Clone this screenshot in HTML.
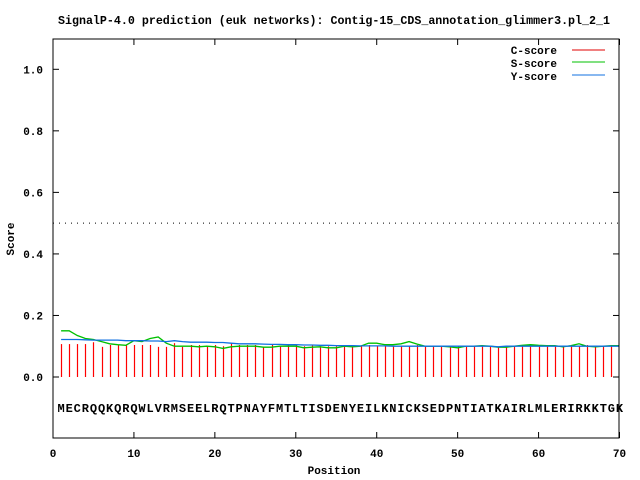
<!DOCTYPE html>
<html><head><meta charset="utf-8"><style>
body{margin:0;background:#fff}
svg{display:block;font-family:"Liberation Mono","DejaVu Sans Mono",monospace;font-weight:bold}
</style></head><body>
<svg id="chart" width="640" height="480" xmlns="http://www.w3.org/2000/svg">
<text x="334" y="24" font-size="11.5" text-anchor="middle" textLength="552" lengthAdjust="spacingAndGlyphs">SignalP-4.0 prediction (euk networks): Contig-15_CDS_annotation_glimmer3.pl_2_1</text>
<g id="axes"></g>
<g id="marks"></g>
<rect x="53" y="39" width="566" height="399" fill="none" stroke="#000" stroke-width="1"/>
<text transform="translate(14,239) rotate(-90)" font-size="11" text-anchor="middle">Score</text>
<text x="334" y="474" font-size="11" text-anchor="middle">Position</text>
<g font-size="11">
<text x="557" y="54" text-anchor="end">C-score</text>
<line x1="572" y1="50" x2="605" y2="50" stroke="#e00000"/>
<text x="557" y="67" text-anchor="end">S-score</text>
<line x1="572" y1="62" x2="605" y2="62" stroke="#00c000"/>
<text x="557" y="80" text-anchor="end">Y-score</text>
<line x1="572" y1="75" x2="605" y2="75" stroke="#1070e0"/>
</g>
</svg>
<script>
const sequence = "MECRQQKQRQWLVRMSEELRQTPNAYFMTLTISDENYEILKNICKSEDPNTIATKAIRLMLERIRKKTGK";
const xTicks = [0,10,20,30,40,50,60,70];
const yTicks = [0.0,0.2,0.4,0.6,0.8,1.0];
const cScore = [0.107,0.107,0.107,0.107,0.113,0.098,0.104,0.104,0.104,0.104,0.104,0.104,0.098,0.098,0.11,0.098,0.104,0.104,0.098,0.104,0.1,0.11,0.104,0.104,0.104,0.098,0.104,0.1,0.104,0.104,0.1,0.104,0.1,0.1,0.1,0.098,0.1,0.1,0.104,0.1,0.1,0.1,0.1,0.1,0.104,0.1,0.1,0.098,0.1,0.1,0.098,0.1,0.1,0.1,0.098,0.1,0.1,0.1,0.1,0.104,0.104,0.1,0.1,0.104,0.1,0.104,0.1,0.1,0.1];
const sScore = [0.15,0.15,0.135,0.125,0.122,0.115,0.108,0.105,0.103,0.118,0.115,0.125,0.13,0.11,0.1,0.1,0.1,0.098,0.1,0.098,0.093,0.098,0.1,0.1,0.1,0.097,0.097,0.1,0.1,0.1,0.095,0.097,0.098,0.095,0.095,0.1,0.098,0.1,0.11,0.11,0.105,0.105,0.108,0.115,0.107,0.1,0.1,0.1,0.098,0.095,0.1,0.1,0.102,0.1,0.097,0.097,0.1,0.103,0.105,0.103,0.102,0.102,0.098,0.102,0.108,0.1,0.098,0.1,0.102,0.102];
const yScore = [0.122,0.122,0.122,0.121,0.12,0.12,0.12,0.12,0.118,0.118,0.118,0.117,0.117,0.115,0.118,0.115,0.113,0.113,0.113,0.112,0.112,0.11,0.108,0.108,0.108,0.107,0.106,0.106,0.105,0.105,0.104,0.104,0.103,0.103,0.102,0.102,0.102,0.101,0.101,0.101,0.101,0.1,0.1,0.1,0.1,0.1,0.1,0.1,0.1,0.1,0.1,0.1,0.1,0.1,0.098,0.1,0.1,0.1,0.1,0.1,0.1,0.1,0.1,0.1,0.1,0.1,0.1,0.1,0.1,0.1];
const threshold = 0.5;

const NS="http://www.w3.org/2000/svg";
const X0=53,X1=619.5,XMAX=70,YB=377,YPER=307.7;
const xs=v=>X0+(X1-X0)*v/XMAX;
const ys=v=>YB-v*YPER;
const axes=document.getElementById('axes'), marks=document.getElementById('marks');
function mk(tag,attrs,parent){const e=document.createElementNS(NS,tag);for(const k in attrs)e.setAttribute(k,attrs[k]);parent.appendChild(e);return e;}

xTicks.forEach(t=>{
  const x=xs(t);
  const a=mk('line',{x1:x,y1:438,x2:x,y2:432,stroke:'#000'},axes);
  
  
  const b=mk('line',{x1:x,y1:39,x2:x,y2:45,stroke:'#000'},axes);
  
  
  const l=mk('text',{x:x,y:457,'font-size':11,'text-anchor':'middle'},axes);
  l.textContent=t;
  
  
});
yTicks.forEach(t=>{
  const y=ys(t);
  const a=mk('line',{x1:53,y1:y,x2:59,y2:y,stroke:'#000'},axes);
  
  
  const b=mk('line',{x1:613,y1:y,x2:619,y2:y,stroke:'#000'},axes);
  
  
  const l=mk('text',{x:43,y:y+4,'font-size':11,'text-anchor':'end'},axes);
  l.textContent=t.toFixed(1);
  
  
});
const th=mk('line',{x1:53,y1:ys(threshold),x2:619,y2:ys(threshold),stroke:'#000','stroke-dasharray':'1,5'},marks);



cScore.forEach((v,i)=>{
  const x=Math.round(xs(i+1))+0.5;
  const b=mk('line',{x1:x,y1:ys(0),x2:x,y2:ys(v),stroke:'#ff0000','stroke-width':1.2},marks);
  
  
});
function line(arr,color,name){
  const pts=arr.map((v,i)=>xs(i+1).toFixed(1)+','+ys(v).toFixed(1)).join(' ');
  const p=mk('polyline',{points:pts,fill:'none',stroke:color,'stroke-width':1.3},marks);
  
  
}
line(sScore,'#00c000','s-score-line');
line(yScore,'#1070e0','y-score-line');

sequence.split('').forEach((c,i)=>{
  const t=mk('text',{x:xs(i+1),y:412,'font-size':12,'text-anchor':'middle'},marks);
  t.textContent=c;
  
  
});
</script>
</body></html>
